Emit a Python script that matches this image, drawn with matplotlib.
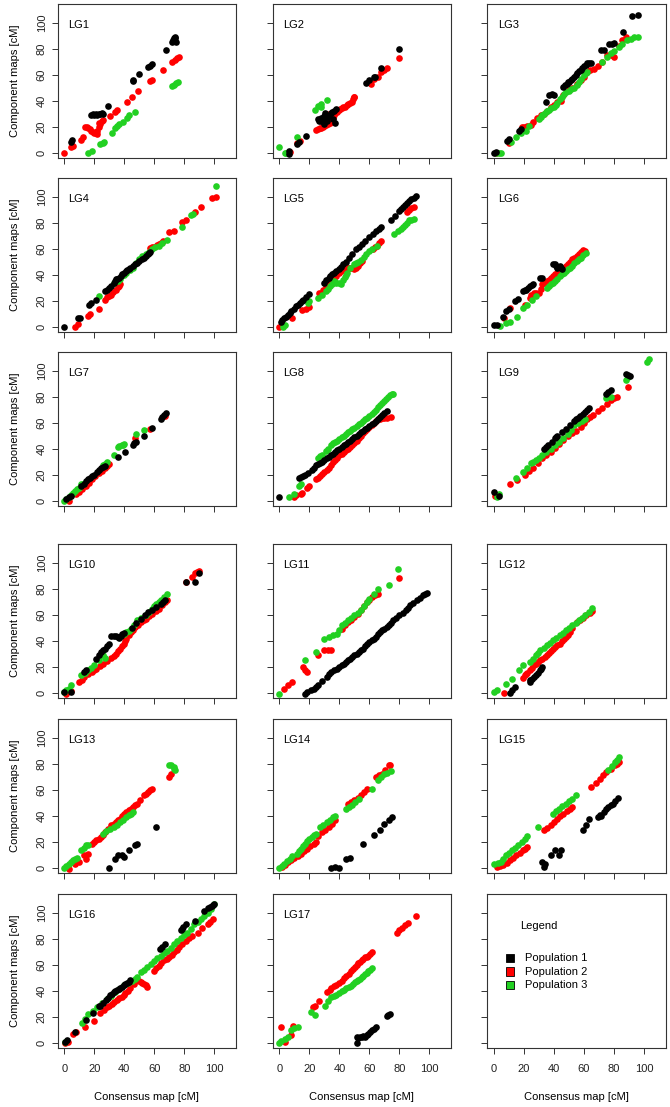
import matplotlib
matplotlib.use("Agg")
import matplotlib.pyplot as plt
from matplotlib.patches import Rectangle

plt.rcParams['font.family'] = ['Liberation Sans', 'DejaVu Sans']
plt.rcParams['font.size'] = 8

# (consensus cM, component cM) per linkage group, per population
LG1_P1 = [(4.5, 8.5), (4.8, 9.6), (18, 29), (19, 29.5), (20, 29), (21, 30), (22, 29), (23, 30), (24, 30), (25, 30.5),
          (26, 30), (28.9, 36), (45.6, 55), (46, 56), (50, 60.5), (55.6, 65.6), (57, 67), (58.2, 68.2), (67.6, 79),
          (72, 85.5), (72.5, 87), (73, 88.5), (73.5, 89), (74, 88), (74.5, 85)]
LG1_P2 = [(0, 0), (4.4, 4), (6, 5.4), (11, 10), (12.7, 11.8), (14, 20), (15, 19.5), (16, 19), (17, 18), (18, 17),
          (19, 16), (20, 15.5), (21, 15), (22, 14.5), (22, 17), (23, 20), (23, 23), (24, 22), (25, 24), (26, 25),
          (30.4, 28.2), (33.8, 31.5), (35, 32.8), (41.5, 39.2), (45.3, 43), (49.3, 47.7), (57, 55), (58.2, 56),
          (66, 64), (72, 70), (73.8, 71.3), (75.3, 72.6), (76.7, 74)]
LG1_P3 = [(16, 0), (18.2, 1.5), (23.8, 6.7), (25.6, 7.7), (26.4, 8.5), (32, 15.4), (33.8, 18.7), (35.3, 20.5),
          (36.4, 22), (39.3, 23.8), (41.5, 27), (43, 29), (47.1, 31.5), (71.6, 51.3), (73, 52), (74.4, 53.3),
          (76, 54.6)]

LG2_P1 = [(6.4, 1.5), (6.4, -1), (11.6, 7), (13, 8.5), (18, 12.8), (26, 26), (26.5, 24), (27.5, 26.4), (28, 24.5),
          (29, 26.4), (29.5, 22), (30, 28), (30.7, 30.8), (31.5, 24), (32, 27), (33, 28.5), (34.3, 30.3),
          (35, 31), (36, 25.6), (37, 22.6), (36.5, 32), (38, 33.3), (58, 53.8), (59.5, 56), (63, 58), (64, 58.5),
          (67.8, 65), (80, 79.5)]
LG2_P2 = [(7, 0.8), (12, 7.2), (13.9, 9.2), (24.5, 17.4), (25.5, 18), (26.8, 18.7), (28, 19.3), (29, 20),
          (30, 20.5), (31.1, 21.3), (32.2, 22), (33.4, 23), (34.5, 24), (29.5, 22.5), (30.5, 24), (31.5, 26),
          (32.5, 28), (33, 30), (35.5, 27), (36.2, 29), (37, 30.3), (38.4, 31.5), (39.8, 32.8), (40.7, 33.5),
          (41.6, 34.1), (42.7, 34.8), (43.9, 35.4), (45, 36.5), (46, 37.4), (47.2, 38.3), (48.4, 39.2),
          (49, 41), (49.5, 42.6), (50, 43), (61, 52.8), (63, 57), (65.5, 58.5), (68, 62), (70, 63.6), (72, 65),
          (80, 72.8)]
LG2_P3 = [(0, 4), (3.4, 0), (4.3, -0.5), (12, 11.8), (24, 33), (25.7, 36), (27.5, 37.4), (28, 35), (32, 40.5)]

LG3_P1 = [(0, 0), (1, 0.5), (8.9, 9.2), (10, 10.5), (16.7, 17), (17.8, 18), (34.4, 38.7), (36.7, 44.4),
          (38.9, 45), (40, 44.5), (46, 50.8), (47, 52), (48.4, 53), (49, 54), (50, 54.6), (51, 56), (52, 57),
          (53, 58), (54.4, 59.7), (55.5, 61), (56.7, 63), (57.8, 64), (58.9, 65), (60, 66.5), (61, 67.5),
          (62, 68.7), (63, 69), (64.4, 69.2), (71, 79), (73.3, 79), (76.7, 83.3), (78.9, 84), (80, 84.6),
          (86, 92.6), (92, 105), (96, 106)]
LG3_P2 = [(1, 0), (10, 7.2), (18.9, 20), (20, 20), (22, 20.8), (24.4, 21.3), (26, 23.5), (28.9, 26.4),
          (31.1, 29), (33.3, 30), (35, 32), (38, 35), (40, 37), (42, 38.7), (44.4, 40), (46, 44), (50, 48),
          (52, 50), (55.6, 52.8), (58, 56), (60, 58), (62.2, 62), (64, 64), (66.7, 64.4), (69, 67), (72, 69.5),
          (75.6, 75), (78, 75), (80, 73.8), (83, 82), (85.6, 86.7), (87.8, 89.2)]
LG3_P3 = [(1, 0), (3.3, -0.5), (4.4, 0), (11, 8.5), (14.4, 12.3), (17.8, 14.9), (21, 17), (23.3, 20.5),
          (30, 26), (31, 27.5), (32, 29), (33, 30), (34.4, 31.5), (35.5, 32), (36.7, 32.8), (38, 34), (40, 35.4),
          (41.1, 36.7), (42, 38.5), (44, 41), (45.5, 43), (46.7, 45), (48, 46.5), (50, 47.7), (51.5, 48.8),
          (53.3, 50), (55, 52.3), (56.7, 54.6), (58, 57), (60, 59.7), (61, 61), (62, 62.3), (72, 70),
          (75.6, 73.8), (77.8, 76.4), (80, 78.5), (83.3, 81.5), (85.6, 84), (88.9, 86.7), (91, 87.4),
          (93.3, 88.7), (96, 88.7)]

LG4_P1 = [(0, 0), (9.4, 7), (10.6, 7), (16.6, 16.9), (18, 18.2), (20.9, 20.8), (27, 27.3), (28.5, 28.5),
          (30, 30), (31.4, 31.5), (32.9, 33.8), (33.5, 35), (34.3, 36.4), (35.3, 37), (36.3, 37.7), (37.5, 39),
          (38.6, 40.3), (39.7, 41.5), (40.9, 42.9), (41.9, 43.5), (42.9, 44.2), (44, 45.2), (45.5, 46.5),
          (47, 48), (48.5, 49.2), (50, 50.6), (51.5, 52), (52.9, 53.2), (54.3, 54.5), (55.7, 55.8),
          (56.3, 56.8), (57, 57.7)]
LG4_P2 = [(7, 0), (9.4, 1.8), (15.7, 8.6), (17.1, 9.6), (22.9, 13.8), (27, 20.8), (28.5, 22.5), (30, 23.5),
          (31.4, 24.7), (32.8, 26.5), (34.3, 28.6), (35.7, 30.5), (36.5, 31.5), (37.1, 32.5), (57, 60.3),
          (58.5, 61), (60, 61.6), (61.5, 62.6), (62.9, 63.6), (64.3, 64.6), (65.7, 65.7), (70, 72.7), (72.9, 74),
          (78.6, 80.5), (81.4, 81.8), (87, 88.3), (91.4, 92.2), (98.6, 98.7), (101.4, 100)]
LG4_P3 = [(22.9, 23.4), (33.4, 33.8), (35.7, 35), (37.1, 36.4), (39.5, 40), (41.4, 41.6), (43.6, 43.5),
          (45.7, 45.5), (47.8, 49), (50, 52), (52, 54), (54.3, 55.8), (56.4, 57.5), (58.6, 59.7), (60.7, 61),
          (62.9, 62.3), (65, 64.5), (68.6, 66.8), (78.6, 77), (84.3, 85.7), (85.7, 87), (101.4, 108.3)]

LG5_P1 = [(1, 3.9), (2, 5), (2.9, 6.5), (4.3, 7.8), (5.7, 9.1), (7, 10.4), (8, 11.7), (9.5, 13.5), (10.9, 15.6),
          (12.3, 17), (13.7, 18.2), (14.8, 19.5), (16, 20.8), (18, 23), (20, 25.2), (29.4, 33.8), (31, 35.8),
          (33.1, 37.7), (34, 39), (35, 40.3), (36.6, 41.6), (37.9, 43), (39.4, 44.2), (40.9, 46), (42.3, 48),
          (44.5, 50), (46.6, 52.7), (48.7, 56), (50.9, 59.7), (53, 61.6), (55, 63.6), (57.2, 66.2), (59.4, 68.8),
          (62.3, 71.4), (64.5, 73.3), (66.6, 75.3), (68, 76.6), (74.3, 82.3), (76.9, 85.5), (79.4, 88.8),
          (80.9, 90.5), (82.3, 92.2), (83.7, 93.5), (85, 94.8), (86.5, 96.4), (88, 98), (89.5, 99.2),
          (91, 100.5)]
LG5_P2 = [(0, 0), (2.3, 1.3), (8.6, 6.5), (15, 13), (18, 13.5), (19.4, 14.8), (26.6, 26), (28.8, 28.6),
          (30.9, 31.2), (33, 33.8), (35, 36.4), (36.5, 37.7), (38, 39), (39.4, 41.6), (40, 42.3), (41, 43),
          (42.3, 44.3), (43.7, 45.5), (45, 45.5), (46.6, 45.5), (48, 44.8), (49.4, 44.2), (50.9, 45.5),
          (52.3, 46.8), (53.6, 48.7), (55, 50.6), (62.3, 59.7), (63.6, 61), (65, 62.3), (66.5, 64.2), (68, 66.2),
          (85, 88.3), (86.5, 89.6), (88, 91), (89.4, 92.2)]
LG5_P3 = [(2.3, 0), (3.7, 1.3), (18.9, 18.2), (20, 19.5), (25.7, 22), (28.3, 24.6), (30.9, 27.3), (32.3, 29.2),
          (33.7, 31.2), (35.1, 33), (36.6, 35), (37.3, 34.3), (38, 33.7), (39.5, 33.4), (40.9, 33), (42.3, 35.6),
          (43.7, 38.2), (44.4, 40), (45, 41.6), (47, 45), (49.4, 48.6), (51, 49), (52.3, 49.4), (54.5, 51.6),
          (56.6, 53.8), (58, 56), (59.4, 58.4), (62, 60), (65, 62.3), (76.6, 71.4), (78.8, 73.3), (81, 75.3),
          (82.3, 76.6), (83.7, 78), (85.1, 80), (86.6, 81.8), (88, 82.4), (89.4, 83.1)]

LG6_P1 = [(0, 1.3), (2.3, 1.3), (6, 7.8), (8, 11.7), (10, 13.5), (13.7, 19.5), (15.7, 21.3), (19.4, 27.3),
          (20.5, 28), (21.4, 28.6), (22.5, 30), (23.7, 31.2), (25, 31.8), (26, 32.5), (30.9, 37.7), (32.3, 37.2),
          (39.4, 48), (40.9, 48), (41, 47), (42.3, 45.5), (43.7, 46.8), (44.4, 45.5), (45, 44.2)]
LG6_P2 = [(6.6, 6.5), (10.9, 14.3), (20.9, 16.9), (23.7, 22), (24.9, 24), (26.6, 26), (28.3, 26), (30, 26),
          (31.2, 29.3), (32.3, 32.5), (33.7, 33.8), (35.1, 35), (36.5, 36.3), (38, 37.7), (39.5, 39),
          (40.9, 40.3), (42.3, 41), (43.7, 41.6), (45.1, 43.6), (46.6, 45.5), (47.9, 46.8), (49.4, 48),
          (50.8, 50), (52.3, 51.9), (53.6, 53.2), (55, 54.5), (56.5, 55.8), (58, 57.1), (59.4, 59), (60.5, 58.5)]
LG6_P3 = [(4.3, 0.5), (8, 2.6), (10.9, 3.9), (15, 7.8), (19.4, 14.3), (22.3, 16.9), (25, 20.8), (28, 23.4),
          (35.1, 29.9), (36.5, 31.2), (38, 32.5), (39.5, 33.8), (40.9, 35), (42.3, 37), (43.7, 39), (45.1, 40.3),
          (46.6, 41.6), (48, 43), (49.4, 44.2), (50.8, 45.5), (52.3, 46.8), (53.6, 48.7), (55, 50.6),
          (56.5, 51.9), (58, 53.2), (59.5, 54.8), (61, 56.4)]

LG7_P1 = [(1.4, 1.2), (2.9, 2.5), (4.3, 3.8), (11.4, 11.2), (12.9, 13), (14.3, 15), (15.7, 16.3), (17, 17.5),
          (18.5, 18.8), (20, 20), (21.5, 22), (22.9, 23.8), (24.3, 25), (25.7, 26.3), (27, 27), (35.7, 33.8),
          (40.6, 37.5), (45.7, 43), (46.7, 44), (47.7, 45), (52.9, 50), (58.6, 56.3), (64.3, 63), (65, 64.5),
          (66.5, 66), (68, 67.5)]
LG7_P2 = [(2.9, 0), (8, 5), (10, 6.3), (12, 8.8), (14.3, 11.3), (16.5, 13.8), (18.6, 16.3), (20.7, 18.8),
          (22.9, 21.3), (25, 23), (27, 25), (28.6, 26.5), (30, 28), (47, 48), (57, 55.5), (67, 65.5)]
LG7_P3 = [(0, 0), (1.4, 1.2), (2.9, 3), (4.3, 4.5), (5.6, 6), (7, 7.5), (8.5, 8.7), (10, 10), (11.4, 12.5),
          (12.5, 13), (25.7, 27.5), (27, 28.5), (28.6, 29.5), (33.4, 35), (35.7, 41.3), (36.8, 42), (38.6, 42.5),
          (39.3, 43), (40, 43.8), (48, 51.3), (52.9, 54.5)]

LG8_P1 = [(0, 2.5), (12.9, 17.5), (14.3, 18.2), (15.7, 18.8), (17.1, 20), (19, 21.5), (21.4, 23.8), (23, 25.5),
          (24.3, 27.5), (25.7, 28), (27, 28.8), (28.5, 30), (30, 31.3), (31.5, 32.5), (32.9, 33.8), (34.3, 35),
          (35.7, 36.3), (37.1, 37.5), (38.6, 38.8), (40, 40), (41.4, 41.3), (42.9, 42.5), (44.3, 43.8),
          (45.7, 45), (47, 46.3), (48.5, 47.5), (50, 48.8), (51.5, 50), (52.9, 51.3), (54.3, 52.5), (55.7, 53.8),
          (57.1, 55), (58.6, 56.3), (60, 57.5), (61.4, 58.8), (62.9, 60), (64.3, 61.3), (65.7, 63), (67, 64.5),
          (68.5, 66), (70, 67.5), (71.4, 68.8)]
LG8_P2 = [(10, 3), (11, 4), (14.3, 5), (15, 6), (18.6, 10), (19.5, 11), (24.3, 16.3), (25.7, 17.5), (27, 19),
          (28.6, 20.5), (30, 22), (31.4, 23.8), (32.9, 25.5), (34.3, 27.5), (35.7, 29.5), (37, 31.3), (38.6, 33),
          (40, 35), (41.4, 36.3), (42.9, 37.5), (44.3, 38.8), (45.7, 40), (47, 41.5), (48.6, 43), (50, 44.5),
          (51.4, 46.3), (52.9, 48), (54.3, 50), (55.7, 52), (57, 53.8), (58.6, 55.5), (60, 57), (61.4, 58.5),
          (62.9, 60), (64.3, 61.3), (65.7, 62.5), (67, 63), (68.5, 63.5), (70, 63.8), (72, 64), (74.3, 64.3)]
LG8_P3 = [(6.6, 2.5), (10, 5.5), (12.9, 11.3), (14.3, 12.5), (25.7, 33), (27, 34), (28.6, 35), (31, 38),
          (32.5, 40), (34.3, 42.5), (35.7, 44), (37, 45.5), (38.6, 46.3), (40, 47.5), (41.4, 48.8), (42.9, 50),
          (44.3, 51.3), (45.7, 52.5), (47, 53.8), (48.6, 55), (50, 56.3), (51.4, 57.5), (52.9, 58.8), (54.3, 60),
          (55.7, 61.3), (57, 62.5), (58.6, 63.8), (60, 65.5), (61.4, 67), (62.9, 68.5), (64.3, 70), (65.7, 72),
          (67, 73.8), (68.5, 75.5), (70, 77), (71, 78.5), (72.3, 80), (73.5, 81), (75, 82), (76, 82)]

LG9_P1 = [(0, 7), (3.4, 3.8), (33.4, 40), (34.8, 41), (36.3, 42.5), (38.5, 45), (40.6, 48), (41.3, 49),
          (42, 50), (45, 52.5), (47.7, 55), (50.5, 58), (53.4, 61.3), (54.8, 62.5), (56.3, 63.8), (57.6, 65.3),
          (59, 67), (60.5, 68.5), (62, 70), (63.5, 71), (74.9, 82), (76.3, 83.5), (77.7, 85), (87.7, 97.5),
          (89, 97), (90.6, 96.3)]
LG9_P2 = [(0.6, 3.8), (10.6, 12.5), (15.6, 16.2), (20.6, 20), (23.4, 22.5), (26.3, 25), (29, 28.7), (32, 32.5),
          (34.8, 35), (37.7, 37.5), (40.5, 40.6), (43.4, 43.8), (46.2, 47), (49, 50), (52, 52), (54.9, 53.8),
          (57.7, 57), (60, 60), (62, 62.5), (64, 64.5), (66.3, 66.3), (69, 69), (72, 71.3), (75, 74.5),
          (77.7, 77.5), (80, 79), (82, 80), (89, 87.5)]
LG9_P3 = [(2, 3), (3.4, 5), (14.9, 17.5), (19.1, 22), (22, 25.4), (24.9, 28.8), (26.3, 30), (27.7, 31.3),
          (29.8, 33), (32, 35), (34.8, 37.5), (37.7, 40), (40.5, 42.5), (43.4, 45), (46.2, 48), (49, 51.3),
          (51.2, 54.6), (53.4, 58), (56.3, 60), (58.5, 61.3), (60.6, 62.5), (74.9, 78.8), (77.7, 80),
          (87.7, 92.5), (89, 95), (102, 107), (103.4, 108.8)]

LG10_P1 = [(0, 0.5), (4.3, 0.5), (12.9, 15.9), (14.3, 17.2), (21.4, 26.2), (22.9, 28.7), (24.3, 31.3),
           (25.7, 32.5), (27, 33.8), (28.5, 35.7), (30, 37.7), (31.4, 43.6), (32.9, 43.6), (34.3, 43.6),
           (35.5, 43), (36.6, 42), (37.6, 43.7), (38.6, 45.4), (40, 46), (45, 50), (48, 53.5), (51.4, 56.9),
           (53.5, 59.5), (55.7, 62), (58.5, 64), (61.4, 65.9), (64.2, 68.5), (65.7, 70), (67, 71), (81.4, 85),
           (87, 85), (90, 92.3)]
LG10_P2 = [(1.4, -0.8), (4.3, 1.5), (10, 8.2), (11.5, 10), (12.9, 12), (15.7, 14), (18.6, 15.9), (20, 17.2),
           (21.4, 18.5), (23.5, 20.4), (25.7, 22.3), (28.6, 24.5), (31.4, 26.7), (32.9, 28.3), (34.3, 30),
           (35.7, 31.9), (37, 33.8), (38.5, 35.7), (40, 37.7), (40.7, 39.6), (41.4, 41.5), (42.9, 44),
           (44.3, 46.7), (45.7, 48.6), (47, 50.5), (49.2, 52.4), (51.4, 54.4), (52.9, 55.6), (54.3, 56.9),
           (56.5, 58.8), (58.6, 60.8), (60.8, 62.7), (62.9, 64.6), (65, 67.2), (67, 69.7), (68.5, 71.5),
           (81.4, 85), (85, 89), (87, 92.3), (88.5, 93), (90, 94)]
LG10_P3 = [(0, 0.5), (1.4, 1.8), (2.9, 3), (4.3, 5.6), (11.4, 13.3), (13.5, 15.3), (15.7, 17.2), (17.9, 19.1),
           (20, 21), (22.9, 25), (25.7, 28.7), (27, 27), (40, 45.4), (41.4, 46.6), (42.9, 47.3), (44.3, 49.2),
           (46.5, 52.4), (48.6, 55.6), (51.4, 57.5), (54.3, 59.5), (56.5, 62), (58.6, 64.6), (60, 66.5),
           (61.4, 68.5), (62.9, 69.7), (64.3, 71), (66.5, 73.6), (68.6, 76.2)]

LG11_P1 = [(17, -0.8), (18.6, 0.5), (20.8, 1.8), (22.9, 3), (24.3, 4.3), (25.7, 5.6), (28.6, 8.8), (31.4, 12),
           (32.9, 14), (34.3, 15.9), (36.5, 17.2), (38.6, 18.5), (40, 19.7), (41.4, 21), (42.9, 22.3),
           (44.3, 23.6), (45.7, 24.9), (47, 26.2), (48.5, 27.4), (50, 28.7), (51.5, 30), (52.9, 31.3),
           (54.3, 32.6), (55.7, 33.8), (57.2, 35.7), (58.6, 37.7), (60, 39), (61.4, 40.3), (62.9, 41.5),
           (64.3, 42.8), (65.7, 44.8), (67, 46.7), (68.5, 48), (70, 49.2), (71.5, 50.5), (72.9, 51.8),
           (74.3, 53.7), (75.7, 55.6), (77.9, 57.5), (80, 59.5), (82.2, 61.4), (84.3, 63.3), (85.7, 65.2),
           (87, 67.2), (89.2, 69.1), (91.4, 71), (93.5, 73), (95.7, 74.9), (97.2, 75.9), (98.6, 76.9)]
LG11_P2 = [(2.9, 3), (5.7, 5.6), (8.6, 8.2), (15.7, 19.7), (17, 17.2), (18.6, 16), (25.7, 28.7), (30, 32.6),
           (32.4, 32.6), (34.3, 32.6), (41.4, 49.2), (43.5, 51.8), (45.7, 54.4), (47.9, 56.3), (50, 58.2),
           (52.2, 60.8), (54.3, 63.3), (56.5, 66.5), (58.6, 69.7), (60, 71.6), (61.4, 73.6), (63.5, 75),
           (65.7, 76.2), (80, 88.2)]
LG11_P3 = [(0, -0.8), (17, 24.9), (24.3, 31.3), (30, 41.5), (32.9, 42.8), (35.7, 44), (38.6, 45.4), (40, 48.6),
           (41.4, 51.8), (43.5, 53.7), (45.7, 55.6), (47.9, 57.5), (50, 59.5), (52.2, 61.4), (54.3, 63.3),
           (56.5, 66.5), (58.6, 69.7), (60, 72.3), (62.9, 76), (65.7, 80), (73, 82.6), (79, 95.4)]

LG12_P1 = [(10.9, 0), (12.3, 1.8), (13.7, 4.4), (23.7, 8.2), (24.3, 9.5), (25, 10.8), (26.5, 12), (28, 13.3),
           (29.5, 15.2), (30.9, 17.2), (31.6, 18.5), (32.3, 19.7)]
LG12_P2 = [(6.6, 0), (19.4, 11.3), (20.9, 13.8), (21, 14.5), (22.3, 15.5), (23.7, 17.2), (25.2, 19.1),
           (26.6, 21), (28, 22.3), (29.4, 23.6), (30.9, 24.9), (32.3, 26.2), (33.7, 27.5), (35.1, 28.7),
           (36.5, 30.3), (38, 31.8), (39.5, 33.5), (40.9, 35.1), (42.3, 36.4), (43.7, 37.7), (45.1, 39.4),
           (46.6, 41), (48, 42.8), (49.4, 44.6), (50.8, 46.4), (52.2, 50), (55, 54.4), (57.2, 55.9), (59.4, 57.4),
           (61.5, 59.5), (63.7, 61.5), (65, 62.6)]
LG12_P3 = [(0, 0.5), (2.3, 1.8), (8, 6.9), (11.7, 10.8), (16.6, 17.2), (19.4, 21), (23.7, 23.6), (25.9, 26.2),
           (28, 28.7), (29.5, 30.6), (30.9, 32.6), (33, 34.5), (35.1, 36.4), (37.2, 38.4), (39.4, 40.3),
           (41.5, 42.2), (43.7, 44.1), (45.8, 46), (48, 47.9), (50.1, 49.9), (52.3, 51.8), (54.5, 53.7),
           (56.6, 55.6), (58.8, 57.5), (60.9, 59.5), (63, 62.3), (65, 65)]

LG13_P1 = [(30, 0), (33.7, 6.9), (35.7, 9.5), (38.6, 9.5), (40, 8.2), (42.9, 13.3), (47, 17.2), (48.6, 18.5),
           (61.4, 31.3)]
LG13_P2 = [(2.9, -0.8), (7.1, 3), (10, 4.4), (12.9, 9.5), (14.3, 6.9), (15.7, 10.8), (18.6, 18.5), (20, 19.8),
           (21.4, 21), (22.9, 22.3), (24.3, 23.6), (25.7, 25.5), (27, 27.4), (29.2, 30), (31.4, 32.6),
           (32.9, 33.9), (34.3, 35.1), (35.7, 36.4), (37, 37.7), (38.5, 39.6), (40, 41.5), (41.4, 42.8),
           (42.9, 44.1), (44.3, 45.4), (45.7, 46.7), (47.1, 48), (48.6, 49.2), (50.7, 52.4), (52.9, 55.6),
           (54.3, 56.9), (55.7, 58.2), (57.2, 59.5), (58.6, 60.8), (70, 69.7), (71, 72)]
LG13_P3 = [(0, 0), (1.4, 1.5), (2.9, 3), (4.3, 4.3), (5.7, 5.6), (7.1, 6.5), (8.6, 7.4), (11.4, 13.3),
           (12.9, 15.2), (14.3, 17.2), (15.7, 17.2), (25.7, 26.2), (28, 28.5), (30.5, 30), (32.9, 31.3),
           (35, 33.2), (37, 35.1), (39.2, 37), (41.4, 39), (42.9, 40.2), (44.3, 41.5), (46, 43), (70, 78.7),
           (71, 79), (72.9, 77.4), (73, 76), (73.7, 74.9)]

LG14_P1 = [(34.3, 0), (37.1, 0.5), (40, 0), (44.3, 6.9), (47.1, 7.4), (55.7, 18.5), (62.9, 24.9), (67.1, 28.7),
           (70, 33.8), (72.9, 36.4), (75, 39)]
LG14_P2 = [(1.4, 0.5), (3.5, 2.4), (5.7, 4.4), (7.9, 5.9), (10, 7.4), (12.2, 9.1), (14.3, 10.8), (16.5, 12.7),
           (18.6, 14.6), (20.7, 16.5), (22.9, 18.5), (24.3, 20), (26, 24), (28.6, 27.4), (30.7, 29.3),
           (32.9, 31.3), (35, 33.8), (37.1, 36.4), (45.7, 49.2), (47.9, 50.5), (50, 51.8), (52.2, 53.7),
           (54.3, 55.6), (56.5, 58.2), (58.6, 60.8), (64.3, 69.7), (66.4, 71), (68.6, 72.3), (70.7, 75.5),
           (72.9, 78.7), (74, 79)]
LG14_P3 = [(0, 0), (1.4, 1.3), (2.9, 2.6), (5, 4.8), (7.1, 6.9), (8.5, 8.8), (11.4, 10.8), (12.9, 12.8),
           (14.3, 14.6), (15.7, 16.5), (17, 18.5), (18.5, 20.4), (20, 22.3), (21.5, 23.6), (22.9, 24.9),
           (24.3, 26), (27.1, 31.3), (29.3, 33.2), (31.4, 35.1), (33.6, 37), (35.7, 39), (37, 39.6), (44.3, 45.4),
           (46.5, 46.6), (48.6, 47.9), (50.7, 50.5), (52.9, 53.1), (61.4, 60.8), (65.7, 67.2), (68, 70),
           (70, 72.3), (72, 73.2), (74.3, 74.1)]

LG15_P1 = [(32, 4.4), (33.4, 0.5), (34.3, 2.5), (37.7, 10), (40.6, 13.3), (43.4, 9.5), (44.9, 13.3),
           (59, 28.7), (61, 33), (63.4, 37.7), (69, 39), (70.7, 40.9), (71.5, 40), (73.4, 42.8), (74.9, 44.8),
           (76.3, 46.7), (77.7, 48), (79, 49.2), (80.9, 51.5), (82.8, 53.8)]
LG15_P2 = [(2, 0.5), (4.2, 1.1), (6.3, 1.8), (8.5, 3.7), (10.6, 5.6), (12.8, 7.5), (14.9, 9.5), (17, 11.4),
           (19.1, 13.3), (20.6, 14.6), (22, 15.9), (33.4, 28.7), (35.6, 30.6), (37.7, 32.6), (39.9, 35.2),
           (42, 37.7), (44.2, 39.6), (46.3, 41.5), (48.5, 43.5), (50.6, 45.4), (52, 47), (64.9, 62), (67.8, 65.2),
           (70.6, 68.5), (72.8, 71), (74.9, 73.6), (77.7, 76.2), (80.6, 78.7), (82, 80), (83.4, 81.3)]
LG15_P3 = [(0, 2.6), (2.4, 3.5), (4.9, 4.4), (6.3, 7), (7.7, 9.5), (9.8, 11.4), (12, 13.3), (14.2, 15.2),
           (16.3, 17.2), (18.5, 19.8), (20.6, 22.3), (22, 24), (29, 31.3), (39, 41.5), (41.2, 43.4), (43.4, 45.4),
           (45.6, 47.3), (47.7, 49.2), (49.9, 51.2), (52, 53.1), (54.9, 55.6), (76.3, 74.9), (78.5, 78),
           (80.6, 81.3), (82, 83), (83.4, 85.1)]

LG16_P1 = [(0.4, 0.5), (1.6, 2.3), (7.2, 8.2), (14.5, 17.3), (19, 23), (22.8, 28), (24, 28), (26, 30.5),
           (28, 32.7), (29.3, 34.6), (30.6, 36.5), (31.8, 37.8), (32.9, 39), (34, 39.9), (35, 40.8),
           (36.2, 41.6), (37.4, 42.3), (38.5, 43.2), (39.6, 44), (40.7, 45), (41.8, 46), (42.9, 47), (44, 48),
           (63.5, 72), (65, 74), (67, 75.8), (77.6, 86.5), (78.5, 87.6), (79.4, 88.8), (81, 91), (87.2, 94),
           (93.3, 101.3), (95.5, 103.3), (96.9, 104.2), (98.2, 105), (99.1, 105.7), (100, 106.4)]
LG16_P2 = [(0.4, -0.3), (2.7, 0.5), (6, 6.4), (7.8, 8.2), (13.9, 12), (19.5, 16.6), (24, 23), (26.2, 25),
           (28.4, 27.3), (30, 28.6), (31.8, 30), (33.4, 31.4), (35, 32.7), (36.8, 34), (38.5, 35.2), (39.6, 36.6),
           (40.7, 38), (42.3, 40), (44, 42), (46.3, 45), (48.5, 48), (49.6, 47.4), (50.8, 46.7), (51.9, 46),
           (53, 45.4), (54.2, 44), (55.3, 42.6), (59.7, 55.4), (61.4, 57.3), (63.1, 59.2), (64.8, 61.3),
           (66.4, 63.3), (68.2, 64.5), (70, 65.8), (71.6, 67.6), (73.2, 69.4), (74.9, 71.5), (76.6, 73.5),
           (78.8, 75.9), (81, 78.3), (83.2, 80.9), (85, 82), (88.8, 84.7), (92, 88), (95.5, 91), (97, 93),
           (98.9, 94.9)]
LG16_P3 = [(0.4, 0.5), (11.6, 15), (14, 18.3), (16, 21.7), (18.8, 24.5), (21.7, 27.3), (25, 30.5), (28.4, 33.7),
           (31.2, 36.2), (34, 38.8), (36.8, 41.4), (39.6, 44), (42.4, 45.8), (45.2, 47.7), (47, 49.2),
           (48.5, 50.8), (50.8, 54), (53, 56), (55.3, 58), (57.5, 60.5), (59.7, 63), (62, 65), (64.2, 66.8),
           (66.5, 68.8), (68.7, 70.7), (71, 73.2), (73.2, 75.8), (75.4, 78.3), (77.6, 80.9), (79.8, 82.8),
           (82, 84.7), (84.3, 87.8), (86.6, 91), (88.8, 93), (91, 94.9), (93.3, 97.5), (95.5, 100),
           (97.7, 103.2), (100, 106.4)]

LG17_P1 = [(51.5, -0.3), (51.5, 4.3), (52.6, 3.5), (53.7, 4.3), (54.8, 4.6), (56, 4.8), (57, 4), (58.1, 5.6),
           (59.3, 6.4), (60.4, 7.9), (61.5, 9.4), (62.8, 10.7), (64.2, 12), (71.6, 20.2), (72.7, 21),
           (73.8, 21.7)]
LG17_P2 = [(1.1, 12), (3.4, 0.5), (7.8, 5.6), (9, 12.5), (22.4, 27.3), (23.5, 28.5), (26.2, 32.4), (32, 38.8),
           (33.4, 40.5), (34.7, 42.1), (36.4, 43.4), (38, 44.6), (39.7, 46.2), (41.4, 47.7), (43, 49.6),
           (44.7, 51.5), (46.4, 53.2), (48, 54.8), (49.2, 56.4), (50.3, 57.9), (51.5, 59.5), (52.6, 61),
           (53.7, 62.3), (54.8, 63.5), (55.9, 64.6), (57, 65.6), (58.1, 66.2), (59.3, 66.8), (60.4, 68.1),
           (61.5, 69.4), (78.3, 84.7), (80, 86.6), (81.7, 88.5), (83.7, 90.4), (85.7, 92.3), (91.3, 97.4)]
LG17_P3 = [(0, 0), (1.1, 1.3), (3.4, 3), (5.6, 4.3), (7.8, 9.4), (10, 11.5), (12.3, 12), (21.3, 23.5),
           (23.5, 21), (30.2, 28.6), (32.5, 31.8), (34.7, 35), (36.4, 36), (38, 37), (39.7, 38.3), (41.4, 39.5),
           (43, 40.8), (44.7, 42), (46.4, 43), (48, 43.9), (49.2, 45.2), (50.3, 46.4), (51.5, 47.3), (52.6, 48.2),
           (53.7, 49.3), (54.8, 50.3), (55.9, 51.6), (57, 52.8), (58.1, 53.8), (59.3, 54.8), (60.4, 56.1),
           (61.5, 57.4)]

groups = [
    ("LG1", LG1_P1, LG1_P2, LG1_P3), ("LG2", LG2_P1, LG2_P2, LG2_P3), ("LG3", LG3_P1, LG3_P2, LG3_P3),
    ("LG4", LG4_P1, LG4_P2, LG4_P3), ("LG5", LG5_P1, LG5_P2, LG5_P3), ("LG6", LG6_P1, LG6_P2, LG6_P3),
    ("LG7", LG7_P1, LG7_P2, LG7_P3), ("LG8", LG8_P1, LG8_P2, LG8_P3), ("LG9", LG9_P1, LG9_P2, LG9_P3),
    ("LG10", LG10_P1, LG10_P2, LG10_P3), ("LG11", LG11_P1, LG11_P2, LG11_P3), ("LG12", LG12_P1, LG12_P2, LG12_P3),
    ("LG13", LG13_P1, LG13_P2, LG13_P3), ("LG14", LG14_P1, LG14_P2, LG14_P3), ("LG15", LG15_P1, LG15_P2, LG15_P3),
    ("LG16", LG16_P1, LG16_P2, LG16_P3), ("LG17", LG17_P1, LG17_P2, LG17_P3),
]
pop_names = ["Population 1", "Population 2", "Population 3"]
pop_colors = ["#000000", "#ff0000", "#22d022"]
ticks = [0, 20, 40, 60, 80, 100]

W, H = 670, 1107
col_left = [57.7, 272.8, 487.4]
row_top = [4, 178, 352, 544, 719, 894]
aw, ah = 178.2, 154.4

fig = plt.figure(figsize=(W / 100, H / 100), dpi=100)


def make_ax(r, c):
    ax = fig.add_axes([col_left[c] / W, 1 - (row_top[r] + ah) / H, aw / W, ah / H])
    ax.set_xlim(-4.4, 114.4)
    ax.set_ylim(-4.4, 114.4)
    ax.set_xticks(ticks)
    ax.set_yticks(ticks)
    ax.tick_params(direction='out', length=4.3, width=0.7, colors='#333333', labelcolor='#222222')
    ax.tick_params(axis='x', pad=7)
    ax.tick_params(axis='y', pad=3.5)
    if c == 0:
        ax.set_yticklabels([str(t) for t in ticks], rotation=90, va='center')
    else:
        ax.set_yticklabels([])
    if r == 5:
        ax.set_xticklabels([str(t) for t in ticks])
    else:
        ax.set_xticklabels([])
    for s in ax.spines.values():
        s.set_color('#333333')
        s.set_linewidth(0.8)
    return ax


for i, (name, p1, p2, p3) in enumerate(groups):
    ax = make_ax(i // 3, i % 3)
    # red and green first, black last
    for pts, col in [(p2, pop_colors[1]), (p3, pop_colors[2]), (p1, pop_colors[0])]:
        xs = [p[0] for p in pts]
        ys = [p[1] for p in pts]
        ax.scatter(xs, ys, s=23, color=col, linewidths=0, zorder=3)
    ax.text(0.06, 0.864, name, transform=ax.transAxes, ha='left', va='center', fontsize=8)

# empty panel with legend
ax = make_ax(5, 2)
ax.text(0.29, 0.793, "Legend", transform=ax.transAxes, ha='center', va='center', fontsize=8)
for k, yk in enumerate([0.585, 0.498, 0.411]):
    ax.add_patch(Rectangle((0.127 - 0.0225, yk - 0.026), 0.045, 0.052, transform=ax.transAxes,
                           facecolor=pop_colors[k], edgecolor='black', linewidth=0.6))
    ax.text(0.21, yk, pop_names[k], transform=ax.transAxes, ha='left', va='center', fontsize=8)

for r in range(6):
    fig.text(15 / W, 1 - (row_top[r] + ah / 2) / H, "Component maps [cM]", rotation=90,
             ha='center', va='center', fontsize=8)
for c in range(3):
    fig.text((col_left[c] + aw / 2) / W, 1 - 1097 / H, "Consensus map [cM]", ha='center', va='center', fontsize=8)

fig.savefig("out.png", dpi=100, facecolor='white')
